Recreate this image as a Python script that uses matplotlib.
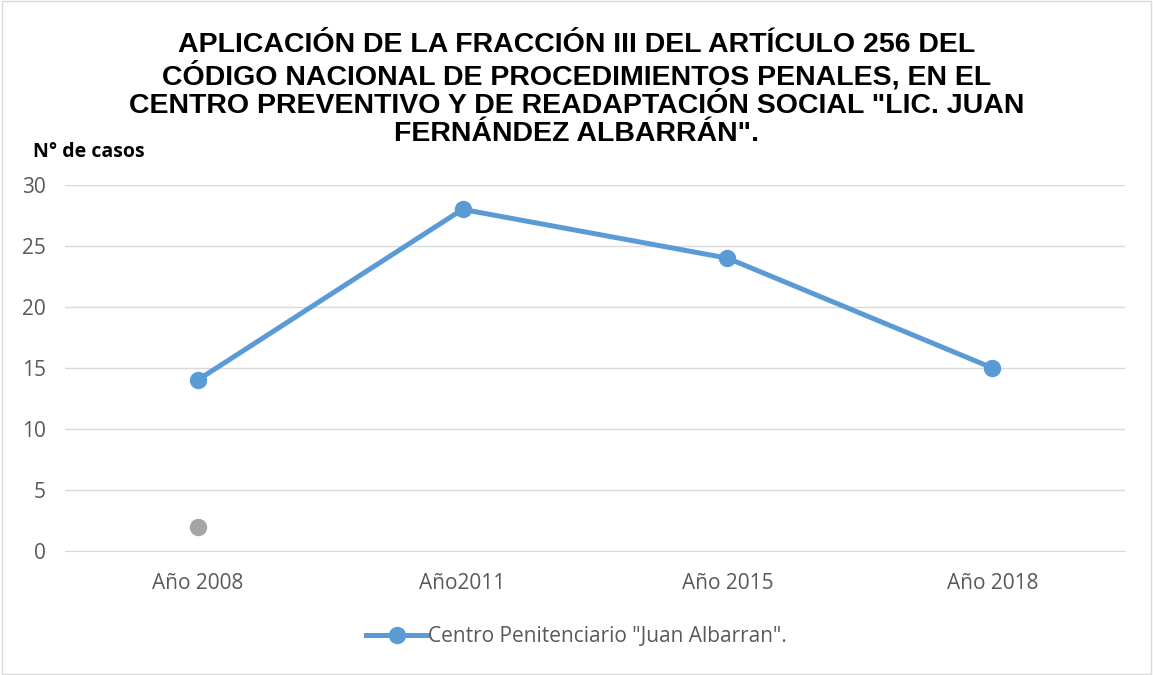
import matplotlib.pyplot as plt
from matplotlib.patches import Rectangle

# data
categories = ["Año 2008", "Año2011", "Año 2015", "Año 2018"]
casos = [14, 28, 24, 15]
extra_cat = ["Año 2008"]
extra_val = [2]
y_ticks = [0, 5, 10, 15, 20, 25, 30]

title = ('APLICACIÓN DE LA FRACCIÓN III DEL ARTÍCULO 256 DEL\n'
         'CÓDIGO NACIONAL DE PROCEDIMIENTOS PENALES, EN EL\n'
         'CENTRO PREVENTIVO Y DE READAPTACIÓN SOCIAL "LIC. JUAN\n'
         'FERNÁNDEZ ALBARRÁN".')

fig = plt.figure(figsize=(11.53, 6.75), dpi=100)
ax = fig.add_axes([0.0564, 0.1837, 0.9193, 0.5423])

x = list(range(len(categories)))
ax.plot(x, casos, color="#5B9BD5", lw=3.6, marker="o", ms=11.5,
        label='Centro Penitenciario "Juan Albarran".', zorder=3)
ax.plot([categories.index(c) for c in extra_cat], extra_val, ls="none",
        marker="o", ms=11.5, color="#A5A5A5", zorder=3)

ax.set_xlim(-0.5, len(categories) - 0.5)
ax.set_ylim(0, 30)
ax.set_yticks(y_ticks)
ax.set_xticks(x)
ax.set_xticklabels(categories)
ax.grid(axis="y", color="#D9D9D9", lw=1)
ax.set_axisbelow(True)
for s in ["top", "right", "left"]:
    ax.spines[s].set_visible(False)
ax.spines["bottom"].set_color("#D9D9D9")
ax.tick_params(length=0, colors="#595959", labelsize=15)
ax.tick_params(axis="y", pad=14)
ax.tick_params(axis="x", pad=16)
for t in ax.get_xticklabels() + ax.get_yticklabels():
    t.set_family("Open Sans")

fig.text(0.5, 0.782, title, ha="center", va="bottom", fontsize=20.5,
         fontweight="bold", family="Liberation Sans", linespacing=1.12)
fig.text(0.029, 0.775, "N° de casos", fontsize=14, fontweight="bold",
         family="Open Sans", va="center")

leg = fig.legend(loc="center", bbox_to_anchor=(0.5, 0.057), frameon=False,
                 handlelength=2.9, handletextpad=0.05,
                 prop={"family": "Open Sans", "size": 15})
for t in leg.get_texts():
    t.set_color("#595959")

fig.patches.append(Rectangle((0.002, 0.002), 0.996, 0.996, transform=fig.transFigure,
                             fill=False, edgecolor="#D9D9D9", lw=1))

fig.savefig("out.png", dpi=100)
